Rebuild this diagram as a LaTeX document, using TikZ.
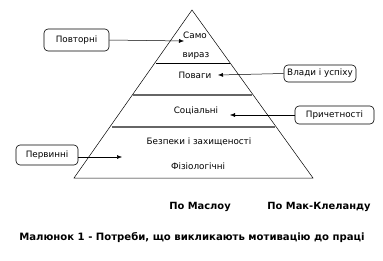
\documentclass[tikz,border=0pt]{standalone}
\usepackage{fontspec}
\setmainfont{DejaVu Sans}
\usetikzlibrary{arrows.meta}
\begin{document}
\begin{tikzpicture}[x=1pt,y=-1pt,
  lbl/.style={font=\fontsize{8.8}{10}\selectfont, inner sep=0pt},
  rbox/.style={draw, rounded corners=4pt, line width=0.6pt, font=\fontsize{8.8}{10}\selectfont, inner sep=0pt, minimum height=18pt, align=center},
  arr/.style={-{Latex[length=5pt,width=4pt]}, line width=0.5pt},
  bold/.style={font=\bfseries\fontsize{9.9}{11}\selectfont, inner sep=0pt}]
\useasboundingbox (0,0) rectangle (383,260);
% pyramid
\draw[line width=0.5pt] (192,10) -- (74,178) -- (313,178) -- cycle;
\draw[line width=0.6pt] (156,63) -- (230,63);
\draw[line width=1.2pt, gray!80!black] (133,95) -- (252,95);
\draw[line width=1.2pt, gray!80!black] (112,127) -- (275,127);
% level labels
\node[lbl] (samo) at (195,35) {Само};
\node[lbl] (viraz) at (196,56) {вираз};
\node[lbl] (povagy) at (195,75) {Поваги};
\node[lbl] (sots) at (196,111) {Соціальні};
\node[lbl] (bezp) at (199,142) {Безпеки і захищеності};
\node[lbl] (fiz) at (198,166) {Фізіологічні};
% boxes
\node[rbox, minimum width=65pt, minimum height=22pt] (povt) at (76.5,40) {Повторні};
\node[rbox, minimum width=72pt, minimum height=17pt] (vlady) at (320,73.5) {Влади і успіху};
\node[rbox, minimum width=79pt, minimum height=18pt] (pryč) at (334.5,115) {Причетності};
\node[rbox, minimum width=62pt, minimum height=20pt] (perv) at (47,155) {Первинні};
% arrow ends
\coordinate (e1) at (184,41);
\coordinate (e2) at (218,75);
\coordinate (e3) at (230,115);
\coordinate (e4) at (122,157);
\draw[arr] (povt.east) -- (e1);
\draw[arr] (vlady.west) -- (e2);
\draw[arr] (pryč.west) -- (e3);
\draw[arr] (perv.east |- e4) -- (e4);
% bottom labels
\node[bold] (maslow) at (200,207) {По Маслоу};
\node[bold] (mcc) at (319,207) {По Мак-Клеланду};
\node[bold, font=\bfseries\fontsize{10.1}{12}\selectfont] (cap) at (192,238) {Малюнок 1 - Потреби, що викликають мотивацію до праці};
\end{tikzpicture}
\end{document}
